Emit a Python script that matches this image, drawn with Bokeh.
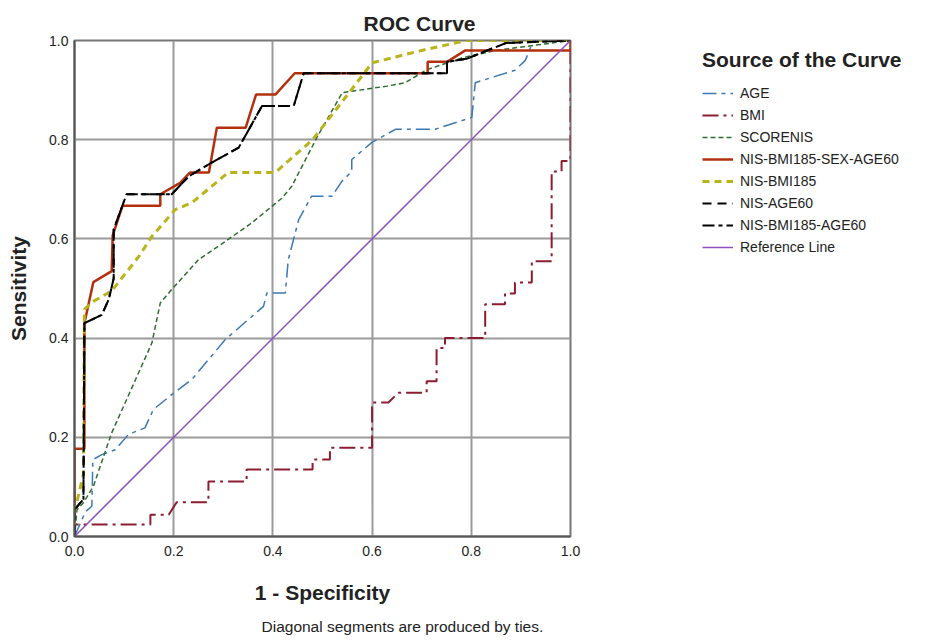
from bokeh.plotting import figure
from bokeh.models import Range1d, Title, FixedTicker, PrintfTickFormatter
from bokeh.embed import file_html
from bokeh.resources import INLINE

FONT = "Liberation Sans"

# ---- data (1 - specificity, sensitivity) ----
age_x = [0, 0.022, 0.035, 0.037, 0.055, 0.082, 0.109, 0.142, 0.159, 0.196, 0.237, 0.304, 0.381, 0.388, 0.425,
         0.431, 0.452, 0.478, 0.519, 0.539, 0.559, 0.559, 0.599, 0.647, 0.727, 0.801, 0.808, 0.888, 0.909, 0.925, 1.0]
age_y = [0, 0.05, 0.061, 0.155, 0.165, 0.175, 0.206, 0.219, 0.256, 0.286, 0.317, 0.397, 0.464, 0.491, 0.491,
         0.558, 0.639, 0.686, 0.686, 0.716, 0.736, 0.76, 0.794, 0.821, 0.821, 0.845, 0.915, 0.94, 0.96, 1.0, 1.0]

bmi_x = [0, 0, 0.153, 0.153, 0.19, 0.206, 0.27, 0.27, 0.347, 0.347, 0.48, 0.48, 0.515, 0.515, 0.6, 0.6, 0.633,
         0.653, 0.71, 0.71, 0.73, 0.73, 0.747, 0.747, 0.828, 0.828, 0.868, 0.868, 0.888, 0.888, 0.922, 0.922,
         0.962, 0.962, 0.982, 0.982, 1.0, 1.0]
bmi_y = [0, 0.024, 0.024, 0.044, 0.044, 0.069, 0.069, 0.111, 0.111, 0.135, 0.135, 0.155, 0.155, 0.179, 0.179,
         0.27, 0.27, 0.29, 0.29, 0.313, 0.313, 0.38, 0.38, 0.40, 0.40, 0.468, 0.468, 0.49, 0.49, 0.512, 0.512,
         0.555, 0.555, 0.736, 0.736, 0.757, 0.757, 1.0]

score_x = [0, 0.005, 0.018, 0.038, 0.075, 0.156, 0.173, 0.196, 0.25, 0.31, 0.357, 0.418, 0.438, 0.49, 0.54,
           0.63, 0.667, 0.71, 0.785, 0.85, 1.0]
score_y = [0, 0.054, 0.068, 0.101, 0.209, 0.39, 0.471, 0.498, 0.558, 0.599, 0.632, 0.682, 0.706, 0.807, 0.895,
           0.908, 0.915, 0.941, 0.966, 0.98, 1.0]

nis_full_x = [0, 0, 0.02, 0.02, 0.038, 0.075, 0.077, 0.097, 0.173, 0.173, 0.213, 0.233, 0.271, 0.287, 0.345,
              0.366, 0.405, 0.444, 0.712, 0.712, 0.751, 0.788, 1.0, 1.0]
nis_full_y = [0, 0.177, 0.177, 0.43, 0.513, 0.535, 0.607, 0.667, 0.667, 0.69, 0.713, 0.734, 0.734, 0.824, 0.824,
              0.891, 0.891, 0.934, 0.934, 0.957, 0.957, 0.98, 0.98, 1.0]

nis_bmi_x = [0, 0, 0.018, 0.02, 0.038, 0.075, 0.13, 0.156, 0.203, 0.237, 0.31, 0.405, 0.48, 0.55, 0.6, 0.7,
             0.79, 1.0]
nis_bmi_y = [0, 0.05, 0.125, 0.458, 0.474, 0.495, 0.565, 0.605, 0.659, 0.673, 0.734, 0.734, 0.80, 0.89, 0.955,
             0.98, 1.0, 1.0]

nis_age_x = [0, 0, 0.018, 0.02, 0.055, 0.069, 0.079, 0.079, 0.105, 0.196, 0.23, 0.27, 0.331, 0.378, 0.442,
             0.462, 0.751, 0.751, 0.79, 0.87, 1.0]
nis_age_y = [0, 0.054, 0.075, 0.43, 0.447, 0.478, 0.52, 0.619, 0.69, 0.69, 0.726, 0.75, 0.784, 0.868, 0.868,
             0.934, 0.934, 0.957, 0.963, 0.995, 1.0]

nis_bmi_age_x = [0, 0, 0.018, 0.02, 0.055, 0.069, 0.079, 0.079, 0.105, 0.196, 0.23, 0.27, 0.331, 0.378, 0.442,
                 0.462, 0.751, 0.751, 0.79, 0.87, 1.0]
nis_bmi_age_y = [0, 0.054, 0.075, 0.43, 0.447, 0.478, 0.52, 0.619, 0.69, 0.69, 0.726, 0.75, 0.784, 0.868, 0.868,
                 0.934, 0.934, 0.957, 0.963, 0.995, 1.0]

ref_x = [0, 1]
ref_y = [0, 1]

ticks = [0.0, 0.2, 0.4, 0.6, 0.8, 1.0]

p = figure(frame_width=496, frame_height=496, output_backend="svg", toolbar_location=None,
           x_range=Range1d(0, 1), y_range=Range1d(0, 1),
           min_border_left=74, min_border_top=40, min_border_bottom=98, min_border_right=350,
           background_fill_color="white", border_fill_color="white")

p.title.text = "ROC Curve"
p.title.align = "left"
p.title.offset = 289
p.title.text_font = FONT
p.title.text_font_size = "21px"
p.title.text_font_style = "bold"
p.title.text_color = "#222222"
p.title.standoff = 11

series = [
    (age_x, age_y, "AGE", "#3b78b4", 1.5, "14 5 4 5"),
    (bmi_x, bmi_y, "BMI", "#8c1c30", 2, "16 5 3 5"),
    (score_x, score_y, "SCORENIS", "#2f6e2f", 1.5, "5 3"),
    (nis_full_x, nis_full_y, "NIS-BMI185-SEX-AGE60", "#b3300e", 2.5, "solid"),
    (nis_bmi_x, nis_bmi_y, "NIS-BMI185", "#b8b41a", 3, "7 5"),
    (nis_age_x, nis_age_y, "NIS-AGE60", "#000000", 2, "9 6"),
    (nis_bmi_age_x, nis_bmi_age_y, "NIS-BMI185-AGE60", "#000000", 2, "12 4 4 4"),
    (ref_x, ref_y, "Reference Line", "#8e4fc0", 1.5, "solid"),
]
for xs, ys, name, col, w, dash in series:
    p.line(xs, ys, line_color=col, line_width=w, line_dash=dash, legend_label=name)

for ax in (p.xaxis[0], p.yaxis[0]):
    ax.ticker = FixedTicker(ticks=ticks)
    ax.formatter = PrintfTickFormatter(format="%.1f")
    ax.major_label_text_font = FONT
    ax.major_label_text_font_size = "14px"
    ax.major_label_text_color = "#222222"
    ax.axis_label_text_font = FONT
    ax.axis_label_text_font_size = "21px"
    ax.axis_label_text_font_style = "bold"
    ax.axis_label_text_color = "#222222"
    ax.major_tick_in = 0
    ax.major_tick_out = 0
    ax.minor_tick_in = 0
    ax.minor_tick_out = 0
    ax.axis_line_color = "#555555"
    ax.axis_line_width = 2

p.xaxis.axis_label = "1 - Specificity"
p.yaxis.axis_label = "Sensitivity"
p.xaxis.major_label_standoff = 9
p.yaxis.major_label_standoff = 6
p.xaxis.axis_label_standoff = 22
p.yaxis.axis_label_standoff = 16

p.grid.grid_line_color = "#9a9a9a"
p.grid.grid_line_width = 2
p.outline_line_color = "#777777"
p.outline_line_width = 2

# move the auto legend to the right-hand panel
leg = p.legend[0]
p.center.remove(leg)
leg.title = "Source of the Curve"
leg.title_text_font = FONT
leg.title_text_font_size = "21px"
leg.title_text_font_style = "bold"
leg.title_text_color = "#222222"
leg.title_standoff = 11
leg.label_text_font = FONT
leg.label_text_font_size = "14px"
leg.label_text_color = "#222222"
leg.glyph_width = 31
leg.glyph_height = 20
leg.label_height = 20
leg.spacing = 2
leg.padding = 0
leg.margin = 0
leg.label_standoff = 7
leg.border_line_alpha = 0
leg.background_fill_alpha = 0
leg.location = (132, 279)
p.add_layout(leg, "right")

foot = Title(text="Diagonal segments are produced by ties.", align="left", offset=187,
             text_font=FONT, text_font_size="15.5px", text_font_style="normal", text_color="#222222", standoff=19)
p.add_layout(foot, "below")

open("out.html", "w").write(file_html(p, INLINE))
